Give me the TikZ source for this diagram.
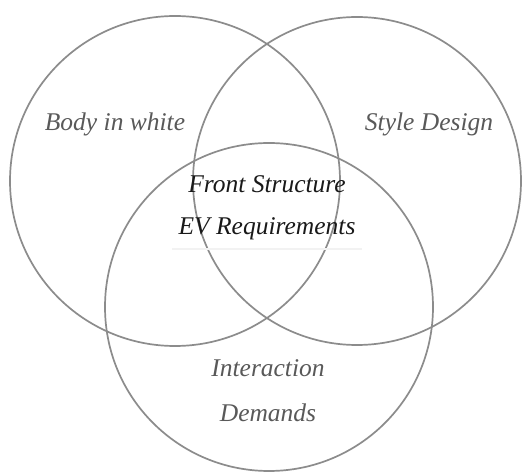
\documentclass[tikz,border=0pt]{standalone}
\usepackage{fontspec}
\setmainfont{Liberation Serif}
\begin{document}
\begin{tikzpicture}[x=1pt,y=-1pt,
  ring/.style={draw=black!45,line width=1.7pt},
  lbl/.style={font=\fontsize{25.5}{28}\selectfont\itshape,text=black!65},
  mid/.style={font=\fontsize{25.5}{28}\selectfont\itshape,text=black!90}]
\useasboundingbox (0,0) rectangle (531,473);
\fill[white] (0,0) rectangle (531,473);
\draw[ring] (175,181) circle (165);
\draw[ring] (357,181) circle (164);
\draw[ring] (269,307) circle (164);
\draw[black!5,line width=2pt] (172,249) -- (362,249);
\node[lbl] (biw) at (115,124) {Body in white};
\node[lbl] (sd) at (429,124) {Style Design};
\node[mid] (fs) at (267,184) {Front Structure};
\node[mid] (ev) at (267,229) {EV Requirements};
\node[lbl] (ia) at (268,368) {Interaction};
\node[lbl] (dm) at (268,413) {Demands};
\end{tikzpicture}
\end{document}
